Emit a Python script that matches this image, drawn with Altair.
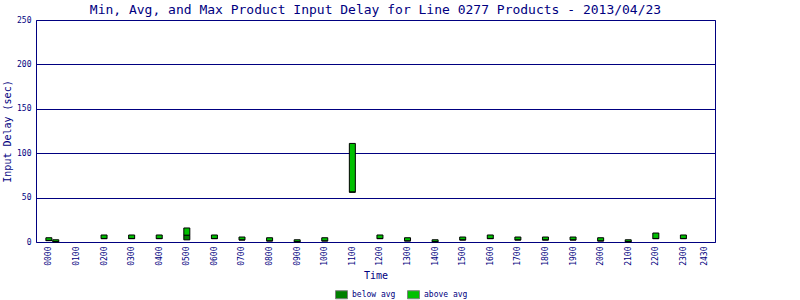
import json
import altair as alt
import pandas as pd

# ---- data ----
hours = [0, 0.25, 2, 3, 4, 5, 6, 7, 8, 9, 10, 11, 12, 13, 14, 15, 16, 17, 18, 19, 20, 21, 22, 23]
min_delay = [1.5, 0, 3.7, 3.7, 3.7, 2.4, 3.7, 2.2, 1.1, 0, 1.1, 56, 3.7, 1.1, 0, 2.2, 3.7, 2.2, 2.2, 2.2, 1.1, 0, 3.7, 3.7]
avg_delay = [1.8, 0.5, 4.0, 4.0, 4.0, 7.7, 4.0, 2.5, 1.4, 0.5, 1.4, 56.5, 4.0, 1.4, 0.5, 2.5, 4.0, 2.5, 2.5, 2.5, 1.4, 0.5, 4.0, 4.0]
max_delay = [4.8, 2.5, 7.9, 7.9, 7.9, 15.8, 7.9, 5.6, 4.8, 2.5, 4.8, 111, 7.9, 4.8, 2.5, 5.6, 7.9, 5.6, 5.6, 5.6, 4.8, 2.5, 10.1, 7.9]

tick_values = list(range(24)) + [23.75]
tick_labels = ["0000", "0100", "0200", "0300", "0400", "0500", "0600", "0700", "0800", "0900",
               "1000", "1100", "1200", "1300", "1400", "1500", "1600", "1700", "1800", "1900",
               "2000", "2100", "2200", "2300", "2430"]
y_ticks = [0, 50, 100, 150, 200, 250]

segments = ["below avg", "above avg"]
colors = ["#008000", "#00C000"]

rows = []
for h, lo, av, hi in zip(hours, min_delay, avg_delay, max_delay):
    rows.append({"hour": h, "y0": lo, "y1": av, "seg": "below avg"})
    rows.append({"hour": h, "y0": av, "y1": hi, "seg": "above avg"})
df = pd.DataFrame(rows)

NAVY = "#000080"
FONT = "DejaVu Sans Mono"

label_expr = json.dumps(tick_labels) + "[round(datum.value)]"

chart = alt.Chart(df).mark_bar(size=6, stroke="black", strokeWidth=1).encode(
    x=alt.X("hour:Q",
            scale=alt.Scale(domain=[-0.2857, 23.964], nice=False, zero=False),
            axis=alt.Axis(values=tick_values, labelExpr=label_expr, labelAngle=-90,
                          grid=False, ticks=False, domain=False, title="Time",
                          labelFont=FONT, labelFontSize=8, labelColor=NAVY, labelPadding=4,
                          titleFont=FONT, titleFontSize=10, titleColor=NAVY, titleFontWeight="normal",
                          titlePadding=5, labelOverlap=False, labelFlush=False, labelBound=False)),
    y=alt.Y("y0:Q",
            scale=alt.Scale(domain=[0, 250], nice=False),
            axis=alt.Axis(values=y_ticks, grid=True, gridColor=NAVY, gridOpacity=1, gridWidth=1,
                          ticks=False, domain=False, title="Input Delay (sec)",
                          labelFont=FONT, labelFontSize=8, labelColor=NAVY, labelPadding=5,
                          titleFont=FONT, titleFontSize=10, titleColor=NAVY, titleFontWeight="normal",
                          titlePadding=4, labelFlush=False, labelBound=False)),
    y2="y1:Q",
    color=alt.Color("seg:N",
                    scale=alt.Scale(domain=segments, range=colors),
                    legend=alt.Legend(title=None, orient="none", direction="horizontal",
                                      legendX=299, legendY=268, padding=0,
                                      symbolType="M-1,-0.67H1V0.67H-1Z", symbolSize=144,
                                      symbolStrokeColor="#808080", symbolStrokeWidth=1,
                                      symbolOpacity=1,
                                      labelFont=FONT, labelFontSize=8, labelColor=NAVY,
                                      labelOffset=4, columnPadding=9)),
).properties(
    width=679,
    height=222,
    background="white",
    padding={"left": 36, "top": 20, "right": 85, "bottom": 58},
    autosize=alt.AutoSizeParams(type="none"),
    title=alt.Title("Min, Avg, and Max Product Input Delay for Line 0277 Products - 2013/04/23",
                    font=FONT, fontSize=13, fontWeight="normal", color=NAVY, offset=-1,
                    anchor="middle"),
).configure_view(
    stroke=NAVY, strokeWidth=1
)

chart.save("out.html", embed_options={"renderer": "svg", "actions": False})
